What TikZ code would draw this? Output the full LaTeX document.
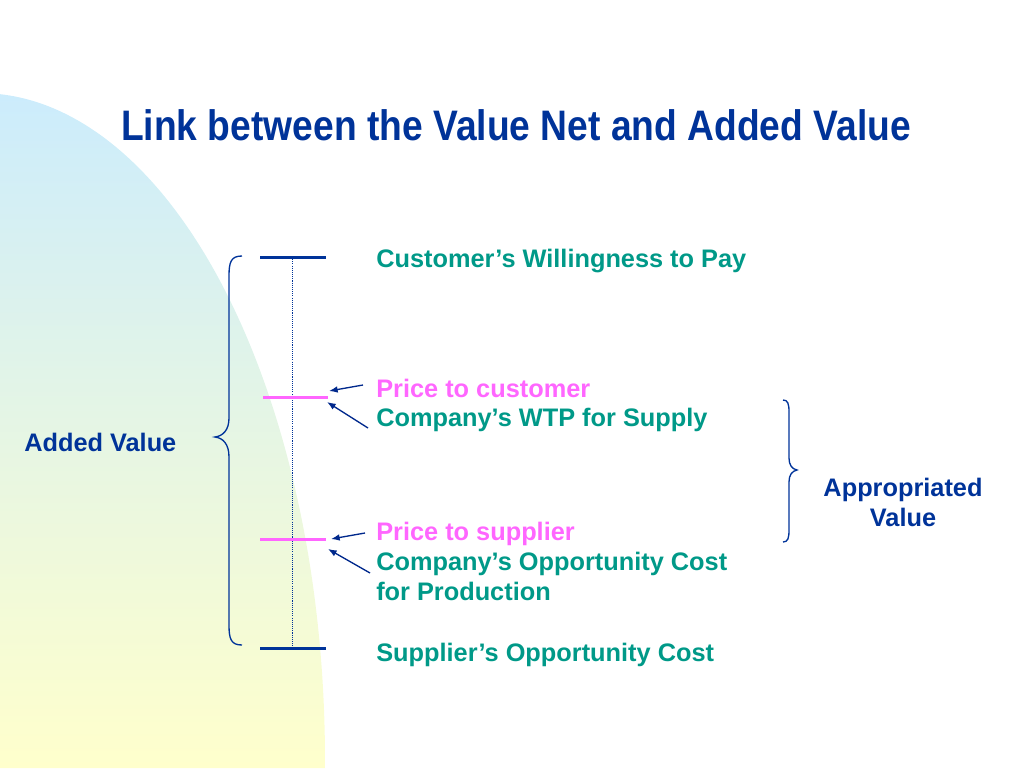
\documentclass[tikz,border=0pt]{standalone}
\usepackage{fontspec}
\setmainfont{Liberation Sans}
\usetikzlibrary{arrows.meta}
\definecolor{navy}{RGB}{0,51,153}
\definecolor{arrowblue}{RGB}{0,40,140}
\definecolor{tealtxt}{RGB}{0,153,136}
\definecolor{pinktxt}{RGB}{255,102,255}
\definecolor{bgblue}{RGB}{204,236,252}
\definecolor{bgyellow}{RGB}{255,255,204}
\begin{document}
\begin{tikzpicture}[x=0.75pt,y=-0.75pt,
  body/.style={font=\fontsize{19}{22.5}\selectfont\bfseries, inner sep=0pt, anchor=base west},
  tealnode/.style={body, text=tealtxt},
  pinknode/.style={body, text=pinktxt},
  bluenode/.style={body, text=navy},
  titlenode/.style={font=\fontsize{32}{36}\selectfont\bfseries, text=navy, inner sep=0pt, anchor=base},
  barline/.style={navy, line width=2.25pt},
  pinkbar/.style={pinktxt, line width=2.25pt},
  arr/.style={arrowblue, line width=1pt, -{Latex[length=6.5pt,width=5pt]}},
  bracestyle/.style={navy, line width=1pt},
  dotline/.style={navy, line width=0.7pt, dash pattern=on 0.8pt off 0.8pt}]
\useasboundingbox (0,0) rectangle (1024,768);
% background shape (elliptic arc)
\shade[top color=bgblue, bottom color=bgyellow]
  plot[domain=86.7:-0.7, samples=80, smooth] ({-20+345*cos(\x)}, {760-667*sin(\x)})
  -- (325,768) -- (0,768) -- cycle;
% title
\node[titlenode] (title) at (516,140) {\scalebox{0.872}[1]{Link between the Value Net and Added Value}};
% scale lines
\coordinate (topL) at (260,257); \coordinate (topR) at (326,257);
\coordinate (p1L) at (263,397); \coordinate (p1R) at (328,397);
\coordinate (p2L) at (260,539); \coordinate (p2R) at (326,539);
\coordinate (botL) at (260,648); \coordinate (botR) at (326,648);
\coordinate (dotT) at (292.7,257); \coordinate (dotB) at (292.7,648);
\draw[dotline] (dotT) -- (dotB);
\draw[barline] (topL) -- (topR);
\draw[barline] (botL) -- (botR);
\draw[pinkbar] (p1L) -- (p1R);
\draw[pinkbar] (p2L) -- (p2R);
% texts
\node[tealnode] (cwtp) at (376,267) {Customer’s Willingness to Pay};
\node[pinknode] (ptc) at (376,397) {Price to customer};
\node[tealnode] (cwts) at (376,426) {Company’s WTP for Supply};
\node[pinknode] (pts) at (376,540) {Price to supplier};
\node[tealnode] (coc) at (376,570) {Company’s Opportunity Cost};
\node[tealnode] (fp) at (376,600) {for Production};
\node[tealnode] (soc) at (376,661) {Supplier’s Opportunity Cost};
\node[bluenode] (av) at (24,451) {Added Value};
\node[font=\fontsize{19}{22.5}\selectfont\bfseries, text=navy, inner sep=0pt, anchor=base, align=center] (apv) at (903,526) {Appropriated\\Value};
% arrows
\coordinate (t1) at (363,385); \coordinate (h1) at (329,391);
\coordinate (t2) at (368,428); \coordinate (h2) at (327,402);
\coordinate (t3) at (365,533); \coordinate (h3) at (331,539);
\coordinate (t4) at (370,573); \coordinate (h4) at (328,549);
\draw[arr] (t1) -- (h1);
\draw[arr] (t2) -- (h2);
\draw[arr] (t3) -- (h3);
\draw[arr] (t4) -- (h4);
% left brace
\draw[bracestyle] (242,256) .. controls (231,256) and (229,262) .. (229,276)
  -- (229,418) .. controls (229,430) and (223,436) .. (215,437)
  .. controls (223,438) and (229,444) .. (229,457)
  -- (229,625) .. controls (229,639) and (231,645) .. (242,645);
% right brace
\draw[bracestyle] (783,400) .. controls (788,400) and (789,404) .. (789,412)
  -- (789,458) .. controls (789,465) and (792,469) .. (797,470)
  .. controls (792,471) and (789,475) .. (789,482)
  -- (789,530) .. controls (789,538) and (788,542) .. (783,542);
\end{tikzpicture}
\end{document}
